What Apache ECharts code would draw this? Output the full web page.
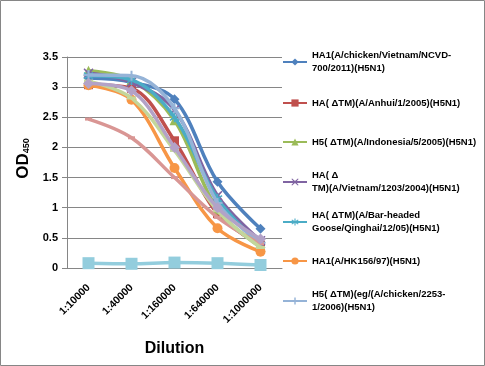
<!DOCTYPE html>
<html>
<head>
<meta charset="utf-8">
<script src="https://cdn.jsdelivr.net/npm/echarts@6/dist/echarts.min.js"></script>
<style>
html,body{margin:0;padding:0;background:#fff;}
#c{width:485px;height:366px;}
</style>
</head>
<body>
<div id="c"></div>
<script>
var categories = ['1:10000', '1:40000', '1:160000', '1:640000', '1:1000000'];
var yTicks = [0, 0.5, 1, 1.5, 2, 2.5, 3, 3.5];
var names = [
  'HA1(A/chicken/Vietnam/NCVD-\n700/2011)(H5N1)',
  'HA( \u0394TM)(A/Anhui/1/2005)(H5N1)',
  'H5( \u0394TM)(A/Indonesia/5/2005)(H5N1)',
  'HA( \u0394\nTM)(A/Vietnam/1203/2004)(H5N1)',
  'HA( \u0394TM)(A/Bar-headed\nGoose/Qinghai/12/05)(H5N1)',
  'HA1(A/HK156/97)(H5N1)',
  'H5( \u0394TM)(eg/(A/chicken/2253-\n1/2006)(H5N1)',
  'Series8',
  'Series9',
  'Series10',
  'Series11'
];
var s1 = [3.15, 3.08, 2.80, 1.43, 0.65];
var s2 = [3.04, 2.98, 2.11, 0.90, 0.38];
var s3 = [3.27, 3.12, 2.45, 0.97, 0.35];
var s4 = [3.23, 3.08, 2.62, 1.20, 0.45];
var s5 = [3.19, 3.12, 2.50, 1.15, 0.38];
var s6 = [3.03, 2.79, 1.66, 0.66, 0.27];
var s7 = [3.20, 3.19, 2.65, 1.08, 0.42];
var s8 = [2.47, 2.16, 1.50, 0.84, 0.40];
var s9 = [3.10, 2.82, 1.95, 0.95, 0.34];
var s10 = [3.06, 2.94, 2.00, 1.00, 0.48];
var s11 = [0.08, 0.07, 0.09, 0.08, 0.05];

var values = [s1, s2, s3, s4, s5, s6, s7, s8, s9, s10, s11];
var colors = ['#4F81BD', '#C0504D', '#9BBB59', '#8064A2', '#4BACC6', '#F79646',
              '#95B3D7', '#D99694', '#C3D69B', '#B3A2C7', '#93CDDD'];
var PLUS = 'path://M4,0H6V4H10V6H6V10H4V6H0V4H4Z';
var XS = 'path://M1,0L5,3.6L9,0L10,1L6.4,5L10,9L9,10L5,6.4L1,10L0,9L3.6,5L0,1Z';
var STAR = 'path://M4.3,0H5.7V3.6L8.8,1.4L9.6,2.6L6.3,5L9.6,7.4L8.8,8.6L5.7,6.4V10H4.3V6.4L1.2,8.6L0.4,7.4L3.7,5L0.4,2.6L1.2,1.4L4.3,3.6Z';
var symbols = ['diamond', 'rect', 'triangle', XS, STAR, 'circle', PLUS, 'rect', 'rect', 'diamond', 'rect'];
var sizes = [10, 9, 10, 10, 10, 10, 10, [7, 3], [9, 3], 11, 12];

var series = values.map(function (v, i) {
  return {
    name: names[i],
    type: 'line',
    data: v,
    smooth: 0.35,
    symbol: symbols[i],
    symbolSize: sizes[i],
    showSymbol: true,
    lineStyle: { width: 3.5, color: colors[i] },
    itemStyle: { color: colors[i] },
    emphasis: { disabled: true },
    z: 2 + i
  };
});

// legend icon centre y positions (layout)
var iconY = [62, 103, 142, 182, 222, 261, 301];
var legends = iconY.map(function (y, i) {
  var two = names[i].indexOf('\n') >= 0;
  return {
    data: [names[i]],
    orient: 'vertical',
    left: 282,
    top: two ? y - 19.5 : y - 6.5,
    padding: 0,
    itemWidth: 24,
    itemHeight: 9,
    itemGap: 0,
    selectedMode: false,
    textStyle: {
      fontFamily: 'Liberation Sans',
      fontSize: 9.5,
      fontWeight: 'bold',
      color: '#000',
      lineHeight: 13,
      padding: two ? [13, 0, 0, 0] : 0
    }
  };
});

var chart = echarts.init(document.getElementById('c'), null, { renderer: 'canvas' });
chart.setOption({
  animation: false,
  backgroundColor: '#fff',
  color: colors,
  graphic: [{
    type: 'rect',
    shape: { x: 0.5, y: 0.5, width: 484, height: 365 },
    style: { fill: 'none', stroke: '#868686', lineWidth: 1 },
    silent: true
  }],
  legend: legends,
  grid: { left: 67, right: 203, top: 57, bottom: 98 },
  xAxis: {
    type: 'category',
    data: categories,
    boundaryGap: true,
    name: 'Dilution',
    nameLocation: 'middle',
    nameGap: 73,
    nameTextStyle: { fontFamily: 'Liberation Sans', fontSize: 16, fontWeight: 'bold', color: '#000' },
    axisLine: { show: true, lineStyle: { color: '#868686', width: 1 } },
    axisTick: { show: false },
    axisLabel: { rotate: 45, fontFamily: 'Liberation Sans', fontSize: 10.5, fontWeight: 'bold', color: '#000', margin: 18, interval: 0 }
  },
  yAxis: {
    type: 'value',
    min: 0,
    max: 3.5,
    interval: 0.5,
    name: 'OD{s|450}',
    nameLocation: 'middle',
    nameGap: 35,
    nameRotate: 90,
    nameTextStyle: {
      fontFamily: 'Liberation Sans', fontSize: 17, fontWeight: 'bold', color: '#000',
      padding: [0, 0, 0, 8],
      rich: { s: { fontFamily: 'Liberation Sans', fontSize: 9, fontWeight: 'bold', color: '#000', padding: [7, 0, 0, 0] } }
    },
    axisLine: { show: true, lineStyle: { color: '#868686', width: 1 } },
    axisTick: { show: true, length: 5, lineStyle: { color: '#868686' } },
    splitLine: { show: true, lineStyle: { color: '#868686', width: 1 } },
    axisLabel: {
      fontFamily: 'Liberation Sans', fontSize: 11, fontWeight: 'bold', color: '#000', margin: 9,
      formatter: function (v) { return String(v); }
    }
  },
  series: series
});
</script>
</body>
</html>
